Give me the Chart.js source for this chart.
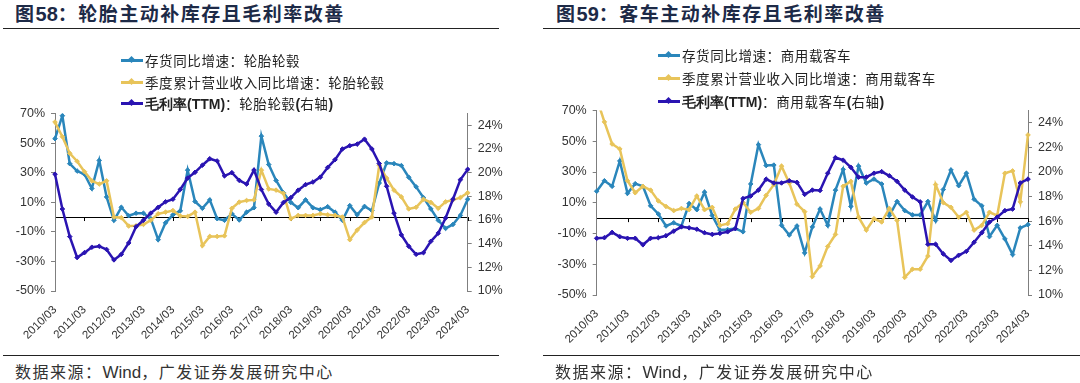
<!DOCTYPE html>
<html>
<head>
<meta charset="utf-8">
<script src="https://cdn.jsdelivr.net/npm/chart.js@4.4.1/dist/chart.umd.min.js"></script>
<style>
body{margin:0;width:1080px;height:383px;background:#fff;position:relative;overflow:hidden;font-family:"Noto Sans CJK SC",sans-serif;}
.title{position:absolute;top:1px;line-height:24px;font-size:19px;font-weight:bold;color:#1d2a47;letter-spacing:1.5px;white-space:nowrap;}
.title b{font-family:"Liberation Sans",Arial,sans-serif;font-size:20px;letter-spacing:0;}
.rule{position:absolute;height:0;border-top:1.5px solid #222;}
.src{position:absolute;top:360px;line-height:22px;font-size:16px;color:#333;white-space:nowrap;letter-spacing:1.5px;}
.src span{font-family:"Liberation Sans",Arial,sans-serif;font-size:17px;letter-spacing:0;}
.legend{position:absolute;font-size:13.5px;color:#222;z-index:2;letter-spacing:0.6px;}
.legend div{white-space:nowrap;position:relative;padding-left:24px;}
.legend b{font-family:"Liberation Sans",Arial,sans-serif;font-size:14px;letter-spacing:0;}
.mk{position:absolute;left:0;width:22px;height:3px;}
.mk i{position:absolute;left:8px;top:-2px;width:5px;height:5px;transform:rotate(45deg);background:inherit;}
canvas{position:absolute;}
</style>
</head>
<body>
<div class="title" style="left:15px">图<b>58</b>：轮胎主动补库存且毛利率改善</div>
<div class="title" style="left:556px">图<b>59</b>：客车主动补库存且毛利率改善</div>
<div class="rule" style="left:3px;width:496px;top:28px"></div>
<div class="rule" style="left:543px;width:537px;top:28px"></div>

<div class="legend" id="legL" style="left:121px;top:50px"></div>
<div class="legend" id="legR" style="left:658px;top:44px"></div>

<canvas id="chartL" width="540" height="250" style="left:0;top:100px"></canvas>
<canvas id="chartR" width="540" height="260" style="left:540px;top:97px"></canvas>

<div class="rule" style="left:3px;width:496px;top:355px"></div>
<div class="rule" style="left:543px;width:537px;top:355px"></div>
<div class="src" style="left:15px">数据来源：<span>Wind</span>，广发证券发展研究中心</div>
<div class="src" style="left:555px">数据来源：<span>Wind</span>，广发证券发展研究中心</div>

<script>
// quarters 2010/03 .. 2024/03
var quarters = [
  '2010/03','2010/06','2010/09','2010/12','2011/03','2011/06','2011/09','2011/12',
  '2012/03','2012/06','2012/09','2012/12','2013/03','2013/06','2013/09','2013/12',
  '2014/03','2014/06','2014/09','2014/12','2015/03','2015/06','2015/09','2015/12',
  '2016/03','2016/06','2016/09','2016/12','2017/03','2017/06','2017/09','2017/12',
  '2018/03','2018/06','2018/09','2018/12','2019/03','2019/06','2019/09','2019/12',
  '2020/03','2020/06','2020/09','2020/12','2021/03','2021/06','2021/09','2021/12',
  '2022/03','2022/06','2022/09','2022/12','2023/03','2023/06','2023/09','2023/12',
  '2024/03'
];

var leftTicks = [-50, -30, -10, 0, 10, 30, 50, 70];
var rightTicks = [10, 12, 14, 16, 18, 20, 22, 24];

// 图58 轮胎轮毂
var tireInventory = [53, 68.5, 36.1, 31.1, 28.9, 19.3, 38.3, 13.6, -2.2, 6.6, 0.9, 2.6, 2.6, -1.1, -15.3, -3.9,
  1.5, 4.2, 31.7, 10.5, 5.9, 11.6, -1.1, -2.2, 2.2, -2, 3.3, 6.3, 54.7, 35.5, 24.7, 16.4,
  9.9, 6.3, 11.6, 6.3, 5, 7, 3.3, -2.2, 7.7, 1.5, 7.2, 4.4, 23, 36.6, 36.1, 34.8,
  26.9, 20.4, 13.1, 5.5, -2.2, -7.7, -5, 1.1, 12];
var tireRevenue = [64.2, 54.3, 43.1, 37.7, 30.7, 24.5, 22.3, 24.5, 0, -0.4, -6.1, -5.9, -5, -2.2, 2.2, 3.3,
  4.4, 0.7, 0.4, 3.3, -19.3, -13.1, -13.1, -12.7, 5.9, 10.1, 11.2, 11.6, 31.7, 19, 18.2, 16,
  -1.1, 1.1, 1.1, 1.1, 2.2, 1.5, 1.1, 0, -15.3, -8.8, -3.7, 0, 35, 26.3, 18.2, 13.6,
  5.5, 6.6, 12, 9.9, 5.9, 10.3, 11.6, 13.1, 16.4];
var tireMargin = [19.87, 16.93, 14.6, 12.83, 13.24, 13.7, 13.78, 13.51, 12.63, 13.1, 14.06, 15.43, 15.98, 16.58, 17.07, 17.54,
  17.76, 18.58, 19.54, 20.03, 20.63, 21.18, 20.99, 19.73, 20.0, 19.35, 19.04, 20.22, 18.58, 17.35, 16.66, 17.48,
  17.89, 18.52, 18.99, 19.21, 19.62, 20.44, 21.1, 22.0, 22.28, 22.41, 22.83, 22.0, 20.77, 18.85, 16.58, 14.74,
  13.78, 13.1, 13.24, 14.2, 14.88, 16.17, 17.76, 19.4, 20.28];

// 图59 商用载客车
var busInventory = [17.5, 24.3, 20.7, 37.2, 16.1, 22.4, 20.7, 8, 2.7, -5.1, -3, -5.1, 9.5, 5.5, 16.9, 1.7,
  -7.8, -7.4, -6.8, -8.9, 22.2, 47.8, 34.2, 34.5, -4.7, -11, -5.1, -22.6, -5.7, 5.9, -4.7, 18.2,
  31.7, 7.6, 33.8, 22.8, 25.4, 22.2, 1.7, 10.8, 4.9, 2.1, 2.1, 10.8, -1.5, 18.6, 31.3, 21.1,
  29.2, 12.3, 8, -12, -4.7, -13.5, -23.7, -6.3, -4.2];
var busRevenue = [78, 62.6, 48.2, 45, 24.3, 16.5, 20.7, 18.2, 11.2, 7.6, 4.9, 6.3, 5.5, 14.4, 5.5, 7,
  -4.7, -3.6, 5.9, 10.1, 3.8, 6.3, 14.8, 21.8, 33.8, 22.8, 9.1, 4.2, -38, -31.1, -18.4, -10.6,
  20.7, 23.9, 0.6, -7.8, -0.4, -2.5, 6.3, -1.5, -38.5, -33.2, -33.2, -24.7, 21.8, 10.1, 7, 0.6,
  3.8, -7.8, -4.7, 3.8, 1.7, 29.2, 30.7, 10.6, 54.1];
var busMargin = [14.61, 14.66, 15.09, 14.74, 14.61, 14.61, 14.08, 14.61, 14.66, 14.82, 15.19, 15.54, 15.46, 15.35, 15.06, 14.93,
  15.01, 15.14, 15.40, 17.84, 18.05, 18.53, 19.42, 19.11, 19.11, 19.29, 19.16, 18.18, 18.53, 18.5, 19.9, 21.17,
  20.96, 20.38, 19.58, 19.58, 19.9, 20.03, 19.69, 19.24, 18.53, 17.97, 17.57, 14.13, 14.13, 13.34, 12.81, 13.23,
  13.55, 14.29, 15.06, 15.93, 16.33, 16.86, 16.99, 19.11, 19.42];

var BLUE = '#2a86bb', GOLD = '#e8c45a', PURPLE = '#2a14b2';

// little tick marks hanging under the 0% line
var zeroTicks = {
    id: 'zeroTicks',
    beforeDatasetsDraw: function(chart) {
        var ctx = chart.ctx, x = chart.scales.x, y0 = chart.scales.y.getPixelForValue(0);
        ctx.save();
        ctx.strokeStyle = '#000';
        ctx.lineWidth = 1;
        ctx.beginPath();
        for (var i = 4; i < quarters.length; i += 4) {
            var px = Math.round(x.getPixelForValue(i)) + 0.5;
            ctx.moveTo(px, y0);
            ctx.lineTo(px, y0 + 4);
        }
        ctx.stroke();
        ctx.restore();
    }
};

function makeLegend(id, names, rowH) {
    var el = document.getElementById(id);
    var colors = [BLUE, GOLD, PURPLE];
    var html = '';
    for (var i = 0; i < 3; i++) {
        html += '<div style="height:' + rowH + 'px;line-height:' + rowH + 'px">' +
            '<span class="mk" style="top:' + (rowH / 2 - 1.5) + 'px;background:' + colors[i] + '"><i></i></span>' +
            names[i] + '</div>';
    }
    el.innerHTML = html;
}

function makeChart(id, inv, rev, margin, names, sz) {
    var tickFont = {family: '"Liberation Sans", Arial, sans-serif', size: 12.5};
    new Chart(document.getElementById(id), {
        type: 'line',
        data: {
            labels: quarters,
            datasets: [{
                label: names[0], data: inv, yAxisID: 'y', order: 3,
                borderColor: BLUE, backgroundColor: BLUE, pointBorderColor: BLUE
            }, {
                label: names[1], data: rev, yAxisID: 'y', order: 2,
                borderColor: GOLD, backgroundColor: GOLD, pointBorderColor: GOLD
            }, {
                label: names[2], data: margin, yAxisID: 'y1', order: 1,
                borderColor: PURPLE, backgroundColor: PURPLE, pointBorderColor: PURPLE
            }]
        },
        options: {
            responsive: false,
            animation: false,
            layout: {padding: {top: sz.top, left: 0, right: 0, bottom: 0}},
            plugins: {legend: {display: false}, tooltip: {enabled: false}},
            elements: {
                line: {borderWidth: 2.5, tension: 0},
                point: {radius: 2.3, pointStyle: 'rectRot', borderWidth: 1}
            },
            scales: {
                x: {
                    grid: {display: false},
                    border: {display: false},
                    ticks: {
                        autoSkip: false, minRotation: 45, maxRotation: 45, padding: 4,
                        color: '#333', font: {family: tickFont.family, size: 11.5},
                        callback: function(v, i) { return i % 4 === 0 ? quarters[i] : ''; }
                    },
                    afterFit: function(s) { s.height = sz.xh; }
                },
                y: {
                    position: 'left', min: -50, max: 70,
                    afterBuildTicks: function(s) { s.ticks = leftTicks.map(function(v) { return {value: v}; }); },
                    ticks: {
                        padding: 6, color: '#333', font: tickFont,
                        callback: function(v) { return v === 0 ? '' : v + '%'; }
                    },
                    grid: {
                        lineWidth: 1, tickLength: 4,
                        color: function(c) { return c.tick && c.tick.value === 0 ? '#000' : 'rgba(0,0,0,0)'; },
                        tickColor: function(c) { return c.tick && c.tick.value === 0 ? 'rgba(0,0,0,0)' : '#7f7f7f'; }
                    },
                    border: {color: '#7f7f7f', width: 1},
                    afterFit: function(s) { s.width = sz.left; }
                },
                y1: {
                    position: 'right', min: 10, max: 25,
                    afterBuildTicks: function(s) { s.ticks = rightTicks.map(function(v) { return {value: v}; }); },
                    ticks: {
                        padding: 6, color: '#333', font: tickFont,
                        callback: function(v) { return v + '%'; }
                    },
                    grid: {drawOnChartArea: false, tickLength: 4, tickColor: '#7f7f7f'},
                    border: {color: '#7f7f7f', width: 1},
                    afterFit: function(s) { s.width = sz.right; }
                }
            }
        },
        plugins: [zeroTicks]
    });
}

var namesL = ['存货同比增速：轮胎轮毂', '季度累计营业收入同比增速：轮胎轮毂', '<b>毛利率(TTM)</b>：轮胎轮毂<b>(</b>右轴<b>)</b>'];
var namesR = ['存货同比增速：商用载客车', '季度累计营业收入同比增速：商用载客车', '<b>毛利率(TTM)</b>：商用载客车<b>(</b>右轴<b>)</b>'];

makeLegend('legL', namesL, 21.5);
makeLegend('legR', namesR, 23);

makeChart('chartL', tireInventory, tireRevenue, tireMargin, namesL, {top: 8.3, left: 55, right: 72.3, xh: 59});
makeChart('chartR', busInventory, busRevenue, busMargin, namesR, {top: 8.7, left: 56.7, right: 52, xh: 62});
</script>
</body>
</html>
